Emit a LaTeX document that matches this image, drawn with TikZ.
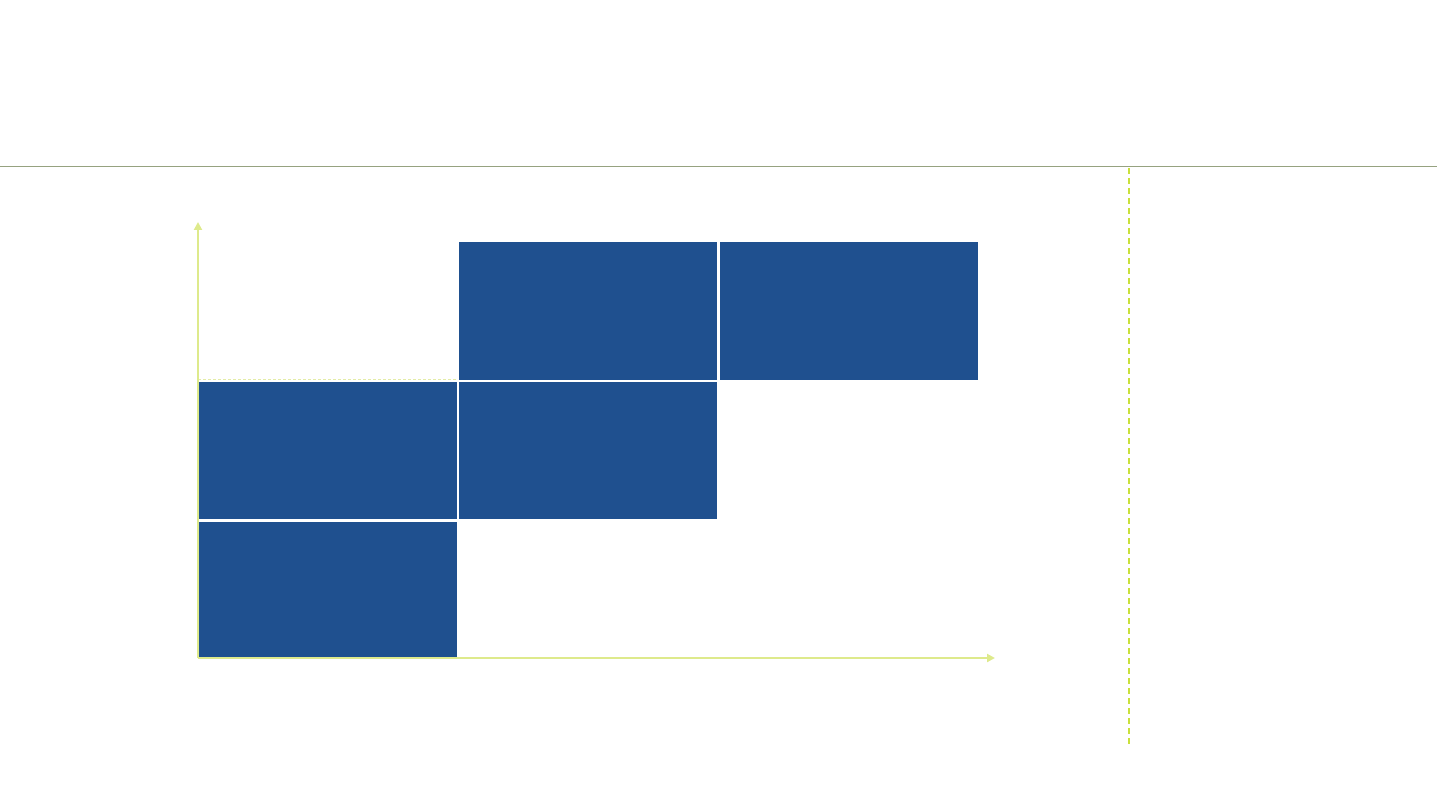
\documentclass[tikz,border=0pt]{standalone}
\usetikzlibrary{arrows.meta}
\definecolor{cellblue}{RGB}{31,80,143}
\definecolor{axisgreen}{RGB}{222,234,140}
\definecolor{rulegrey}{RGB}{150,162,128}
\definecolor{splitgreen}{RGB}{201,224,60}
\definecolor{gridpale}{RGB}{228,236,168}
\tikzset{
  cell/.style={draw=white, line width=2pt, fill=cellblue, inner sep=0pt,
    minimum width=260pt, minimum height=139.5pt, anchor=north west},
  axis/.style={draw=axisgreen, line width=2pt, -{Triangle[length=8pt,width=8pt]}},
  gridline/.style={draw=gridpale, line width=1pt, dash pattern=on 3pt off 2pt}
}
\begin{document}
\begin{tikzpicture}[x=1pt,y=-1pt]

% Fix the page size
\useasboundingbox (0,0) rectangle (1440,810);

% Reference points of the chart
\coordinate (O) at (198,658);
\coordinate (ytip) at (198,222);
\coordinate (xtip) at (995,658);

% Top rule and dashed split line
\coordinate (ruleL) at (0,167);
\coordinate (ruleR) at (1437,167);
\coordinate (splitT) at (1129,168);
\coordinate (splitB) at (1129,745);
\draw[rulegrey, line width=1pt] (ruleL) -- (ruleR);
\draw[splitgreen, line width=2pt, dash pattern=on 6pt off 4pt] (splitT) -- (splitB);

% Pale dashed lines along the cell edges
\draw[gridline] (198,379.5) -- (978,379.5);
\draw[gridline] (457,240) -- (457,519.5);

% Filled cells
\node[cell] (c12) at (457,240) {};
\node[cell] (c13) at (718,240) {};
\node[cell] (c21) at (197,379.5) {};
\node[cell] (c22) at (457,379.5) {};
\node[cell] (c31) at (197,519.5) {};

% Axes
\draw[axis] (O) -- (ytip);
\draw[axis] (O) -- (xtip);

\end{tikzpicture}
\end{document}
